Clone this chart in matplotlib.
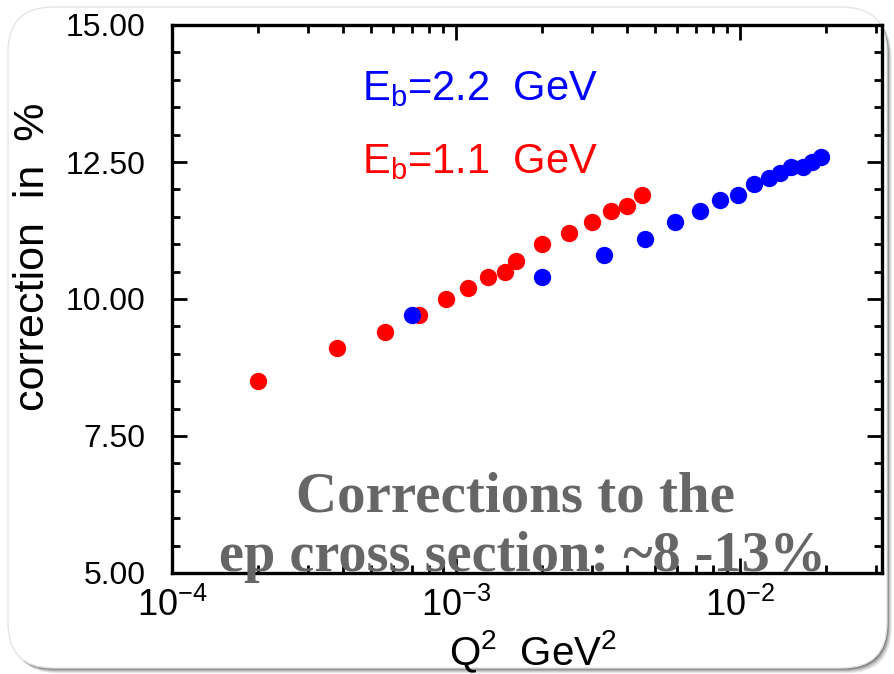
import numpy as np
import matplotlib
matplotlib.use("Agg")
import matplotlib.pyplot as plt
from matplotlib.patches import FancyBboxPatch
from matplotlib.ticker import FixedLocator, FormatStrFormatter, MultipleLocator, LogLocator

# radiative corrections vs Q^2 for two beam energies
q2_e11 = [2.0e-4, 3.8e-4, 5.6e-4, 7.4e-4, 9.2e-4, 1.10e-3, 1.29e-3, 1.48e-3,
          1.63e-3, 2.0e-3, 2.5e-3, 3.0e-3, 3.5e-3, 4.0e-3, 4.5e-3]
corr_e11 = [8.5, 9.1, 9.4, 9.7, 10.0, 10.2, 10.4, 10.5,
            10.7, 11.0, 11.2, 11.4, 11.6, 11.7, 11.9]

q2_e22 = [7.0e-4, 2.0e-3, 3.3e-3, 4.6e-3, 5.9e-3, 7.2e-3, 8.5e-3, 9.8e-3,
          1.12e-2, 1.26e-2, 1.38e-2, 1.51e-2, 1.66e-2, 1.78e-2, 1.92e-2]
corr_e22 = [9.7, 10.4, 10.8, 11.1, 11.4, 11.6, 11.8, 11.9,
            12.1, 12.2, 12.3, 12.4, 12.4, 12.5, 12.6]

y_ticks = [5.0, 7.5, 10.0, 12.5, 15.0]

W, H = 894, 674
SANS = "Liberation Sans"
plt.rcParams["font.family"] = SANS
plt.rcParams["mathtext.fontset"] = "custom"
plt.rcParams["mathtext.rm"] = SANS
plt.rcParams["mathtext.it"] = SANS
plt.rcParams["mathtext.default"] = "regular"

fig = plt.figure(figsize=(W / 100, H / 100), dpi=100, facecolor="white")


def px(x, y):
    # pixel position measured from top-left -> figure fraction
    return x / W, 1 - y / H


# rounded slide frame with a soft shadow
inch = fig.dpi_scale_trans
x0, x1, top, bot = 8, 887, 7, 668
for k, a in zip(range(7, 0, -1), [0.05, 0.06, 0.08, 0.10, 0.13, 0.16, 0.20]):
    sh = FancyBboxPatch(((x0 + k * 0.7) / 100, (H - bot - k * 0.8) / 100),
                        (x1 - x0) / 100, (bot - top) / 100,
                        boxstyle="round,pad=0,rounding_size=0.45",
                        transform=inch, facecolor="black", edgecolor="none",
                        alpha=a, zorder=-3)
    fig.patches.append(sh)
frame = FancyBboxPatch((x0 / 100, (H - bot) / 100), (x1 - x0) / 100, (bot - top) / 100,
                       boxstyle="round,pad=0,rounding_size=0.45",
                       transform=inch, facecolor="white", edgecolor="#e4e4e4",
                       linewidth=1.0, zorder=-2)
fig.patches.append(frame)

ax = fig.add_axes([172 / W, 1 - 573 / H, (882 - 172) / W, (573 - 25) / H])
ax.set_zorder(2)
ax.patch.set_visible(False)

ax.plot(q2_e11, corr_e11, "o", color="red", ms=12.5, mew=0, zorder=3)
ax.plot(q2_e22, corr_e22, "o", color="blue", ms=12.5, mew=0, zorder=4)

ax.set_xscale("log")
ax.set_xlim(1e-4, 3.15e-2)
ax.set_ylim(5, 15)

ax.yaxis.set_major_locator(FixedLocator(y_ticks))
ax.yaxis.set_major_formatter(FormatStrFormatter("%.2f"))
ax.yaxis.set_minor_locator(MultipleLocator(0.5))
ax.xaxis.set_major_locator(LogLocator(base=10, numticks=10))
ax.xaxis.set_minor_locator(LogLocator(base=10, subs=np.arange(2, 10), numticks=10))

for s in ax.spines.values():
    s.set_linewidth(2.4)
ax.tick_params(which="both", direction="in", top=True, right=True, width=2.0, color="black")
ax.tick_params(which="major", length=10.5)
ax.tick_params(which="minor", length=5.5)
ax.tick_params(axis="y", which="major", pad=19, labelsize=23)
ax.tick_params(axis="x", which="major", pad=11, labelsize=26)

# axis titles
fig.text(*px(33, 257), "correction  in  %", rotation=90, fontsize=31,
         ha="center", va="center", zorder=5)
fig.text(*px(533, 652), "Q$^2$  GeV$^2$", fontsize=29, ha="center", va="center", zorder=5)

# beam-energy labels
fig.text(*px(362, 100), "E$_b$=2.2  GeV", color="blue", fontsize=30,
         ha="left", va="baseline", zorder=5)
fig.text(*px(362, 173), "E$_b$=1.1  GeV", color="red", fontsize=30,
         ha="left", va="baseline", zorder=5)

# slide annotation
fig.text(*px(516, 511), "Corrections to the", color="#666666", fontsize=41,
         family="Liberation Serif", weight="bold", ha="center", va="baseline", zorder=10)
fig.text(*px(522, 571), "ep cross section: ~8 -13%", color="#666666", fontsize=40.5,
         family="Liberation Serif", weight="bold", ha="center", va="baseline", zorder=10)

fig.savefig("out.png", dpi=100, facecolor="white")
